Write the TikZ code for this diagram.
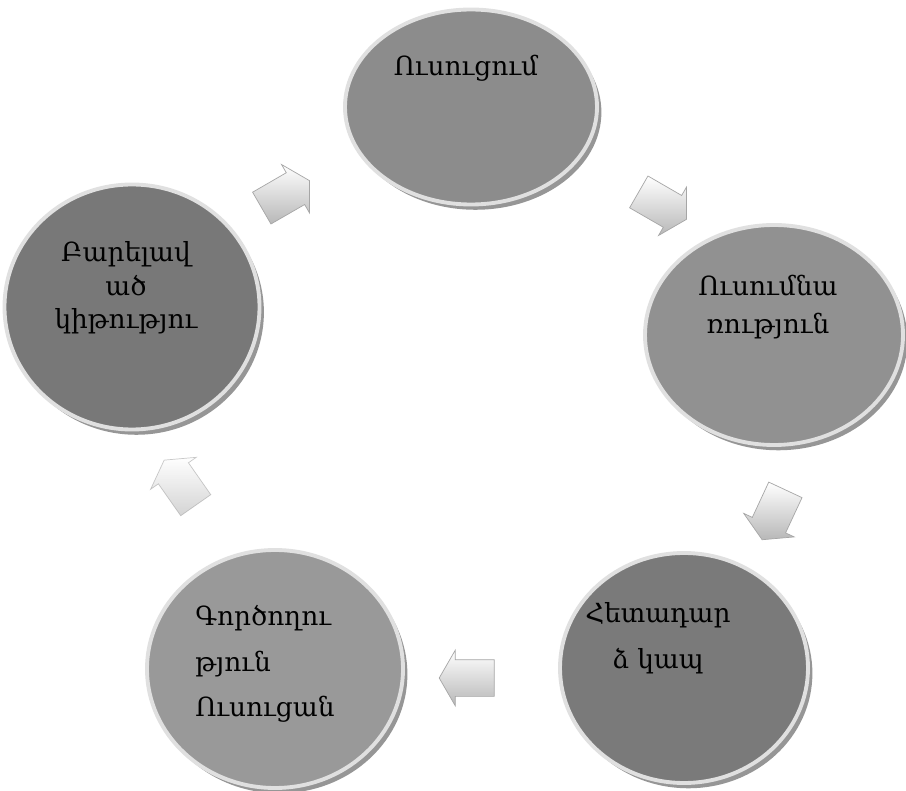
\documentclass[tikz,border=0pt]{standalone}
\usepackage{fontspec}
\newfontfamily\armfont{DejaVu Serif}
\usepackage{tikz}
\usetikzlibrary{shapes.geometric,shapes.arrows,shadows,calc}

\begin{document}
\begin{tikzpicture}[
  x=0.2mm, y=-0.2mm,
  font=\armfont\fontsize{15}{19}\selectfont,
  disc/.style={ellipse, draw=black!12, line width=2.2pt, inner sep=0pt,
               drop shadow={shadow xshift=2.5pt, shadow yshift=-3pt,
                            fill=black!55, opacity=0.75}},
  txt/.style={align=center, inner sep=0pt, text=black},
  blk/.style={single arrow, draw=black!35, line width=0.4pt, inner sep=3.6mm,
              minimum height=11mm, single arrow head extend=1.9mm,
              single arrow tip angle=120, top color=white, bottom color=black!28}
]
\useasboundingbox[fill=white] (0,0) rectangle (906,791);

% --- five stages round the cycle -----------------------------------------
\node[disc, fill=black!45, minimum width=50.4mm, minimum height=39mm] (c1) at (471,107) {};
\node[disc, fill=black!43, minimum width=51.6mm, minimum height=44mm] (c2) at (774,335) {};
\node[disc, fill=black!52, minimum width=49.6mm, minimum height=46mm] (c3) at (684,668) {};
\node[disc, fill=black!40, minimum width=51.2mm, minimum height=47.6mm] (c4) at (275,669) {};
\node[disc, fill=black!53, minimum width=51mm, minimum height=49mm] (c5) at (132,307) {};

% --- labels (set a little above the centre) ------------------------------
\node[txt] (t1) at ($(c1)+(-5,-39)$) {Ուսուցում};
\node[txt] (t2) at ($(c2)+(-6,-28)$) {Ուսումնա\\[3pt]ռություն};
\node[txt] (t3) at ($(c3)+(-26,-30)$) {Հետադար\\[7pt]ձ կապ};
\node[txt, align=left] (t4) at ($(c4)+(-10,-5)$) {Գործողու\\[7pt]թյուն\\[7pt]Ուսուցան};
\node[txt] (t5) at ($(c5)+(-6,-19)$) {Բարելավ\\ած\\կիթությու};

% --- block arrows between the stages -------------------------------------
\node[blk, rotate=30]   (a1) at (281,197) {};
\node[blk, rotate=-30]  (a2) at (658,203) {};
\node[blk, rotate=-115] (a3) at (776,510) {};
\node[blk, rotate=180]  (a4) at (472,678) {};
\node[blk, rotate=125, opacity=0.6] (a5) at (183,487) {};

\end{tikzpicture}
\end{document}
